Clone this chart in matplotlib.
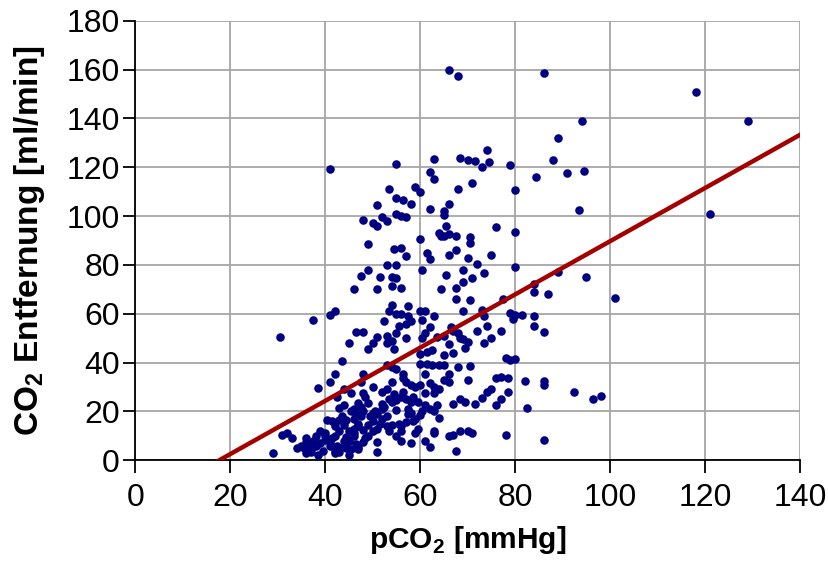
import numpy as np
import matplotlib.pyplot as plt

plt.rcParams['font.family'] = ['Liberation Sans', 'DejaVu Sans']

# pCO2 [mmHg] vs CO2 removal [ml/min]
pco2 = [
    66, 68, 86, 118, 129, 94, 89, 88, 74, 68.5, 70, 71.5, 74.5, 73, 79, 63, 55, 41, 62, 63,
    91, 94.5, 84.5, 71, 68, 80, 59, 60, 53.5, 55, 56.5, 58, 66, 51, 62, 65, 65, 55, 56, 57,
    52, 53, 48, 50, 51, 93.5, 121, 76, 65.5, 80, 64, 64.5, 65, 66, 67.5, 70.5, 70.5, 60, 49, 54.5,
    56, 61.5, 67.5, 66, 57, 62, 75, 70, 72, 80, 53, 55, 60.5, 69, 49, 47.5, 51.5, 54, 55, 65.5,
    73.5, 71, 89, 95, 69, 54, 56, 46, 51, 67.5, 64.5, 84, 84, 87, 101, 67.5, 70.5, 77.5, 54, 57.5,
    42, 41, 60, 61, 53.5, 55, 56, 57.5, 63, 69, 73, 73.5, 79, 80, 81.5, 84, 79.5, 58, 60.5, 52.5,
    57, 55.5, 74, 84, 86, 37.5, 46.5, 48, 62, 66.5, 67, 68, 65, 55, 53, 51, 50, 53, 54, 57,
    60.5, 61, 63.5, 68.5, 69, 70, 72, 73.5, 75, 77, 30.5, 45, 49, 54.5, 65, 67, 66, 69.5, 60, 61.5,
    62.5, 78, 79, 80, 43.5, 60, 61.5, 62.5, 64, 65, 68, 70.5, 53, 54, 55, 56.5, 56.5, 61, 66, 42,
    48, 47.5, 41, 38.5, 44, 45.5, 42.5, 48, 50, 52, 53, 54, 57, 58, 59, 60, 62, 63, 64, 66,
    65, 70, 76, 77, 78.5, 82, 86, 86, 75, 74, 78.5, 92.5, 98, 96.5, 73, 77, 68.5, 69.5, 71.5, 67,
    76, 82.5, 63, 61, 56, 57, 55, 54, 52, 49, 47, 44, 43, 46, 48, 50, 51, 53, 55, 57.5,
    58, 60, 61, 62, 63, 63.5, 64, 59, 58.5, 57, 56, 54, 52, 51, 49, 47, 46, 44.5, 43, 41.5,
    40.5, 42, 44, 46, 48, 50, 53.5, 56, 59, 63, 63, 66, 67, 68.5, 70, 71, 78, 86, 61, 62,
    56, 58, 51, 46.5, 47, 48, 45, 44.5, 42, 40, 39, 38, 37.5, 36, 36, 35, 34, 33, 31, 32,
    29, 36, 37, 38.5, 39.5, 41, 42, 43, 44, 44.5, 45, 45.5, 47, 51, 67.5, 40, 41, 43, 38, 37,
    42.5, 40, 39, 37, 35.5, 41.5, 43.5, 45.5, 46.5, 47.5, 48.5, 49.5, 50.5, 52.5, 54.5, 55.5, 57.5, 59.5, 60.5, 58.5,
    44, 45, 46, 47, 48.5, 50, 52, 53, 55, 56.5, 58, 59.5, 42, 43, 44.5, 46, 47.5, 49, 51.5, 53.5,
]
co2 = [
    160, 157.5, 158.5, 151, 139, 139, 132, 123, 127, 124, 123, 122.5, 122, 120, 121, 123.5, 121.5, 119.5, 118, 115,
    117.5, 118.5, 116, 113.5, 111, 110.5, 112, 110, 111, 107.5, 106.5, 105, 105, 104.5, 103, 102, 100.5, 101, 100, 99.5,
    99.5, 98, 98.5, 97, 96, 102.5, 101, 95.5, 96, 93.5, 93, 92, 92, 92.5, 92, 91.5, 89, 90.5, 88.5, 86.5,
    87, 85, 86, 84, 83.5, 82.5, 84, 83, 80.5, 79, 80, 80, 78, 78, 78, 75.5, 75, 75, 74.5, 76,
    76.5, 74.5, 77, 75, 73, 71.5, 70.5, 70, 70, 70.5, 70, 72, 69, 68, 66.5, 66, 65.5, 66, 63.5, 63,
    61, 59.5, 61, 61, 61, 60, 60, 59, 59, 61, 61.5, 59, 60.5, 59.5, 59.5, 59, 58, 57, 57.5, 57,
    56, 55, 55, 55, 52.5, 57.5, 52.5, 52.5, 54.5, 54.5, 53, 52, 51, 52, 51, 50.5, 48, 48, 49, 50,
    50, 52, 50.5, 50, 49.5, 48.5, 53, 48, 50, 53, 50.5, 48, 45.5, 45.5, 43, 44, 47.5, 46, 43.5, 44.5,
    45, 42, 41, 41.5, 40.5, 39.5, 39.5, 39, 39, 39, 38, 38.5, 39, 38, 37.5, 35.5, 33.5, 35.5, 35.5, 35.5,
    35.5, 32, 32, 29.5, 29, 27.5, 26, 27.5, 30, 28, 29, 32, 32, 31, 30, 31, 31.5, 30, 29, 32,
    33, 33, 33.5, 34, 33.5, 32.5, 32.5, 31, 29, 28, 28, 28, 26.5, 25, 25.5, 25, 25, 24, 23, 23,
    22.5, 21.5, 27.5, 27.5, 26, 25, 24.5, 24, 23, 23.5, 23.5, 22.5, 21.5, 21, 20, 19.5, 19, 18, 20.5, 21,
    19.5, 18.5, 22.5, 21, 20, 22.5, 17.5, 17, 16, 15.5, 14, 14.5, 17, 13, 14.5, 15, 17, 16.5, 16.5, 16,
    16.5, 14, 14.5, 13, 12.5, 12, 12, 12, 11, 12, 11, 10, 10.5, 12, 12, 11, 10.5, 8.5, 8, 5.5,
    8, 7, 7.5, 6.5, 5.5, 7.5, 8, 9.5, 10, 11, 12, 10, 8, 7.5, 9, 6, 5, 9, 10.5, 11,
    3, 3, 3.5, 2, 4, 6, 4, 3.5, 6, 5, 2, 4.5, 4.5, 3.5, 4, 10, 7.5, 12, 6, 6.5,
    6, 8.5, 7, 4.5, 5, 9, 18, 20, 19, 22, 26, 18, 20, 22, 27, 15, 19, 24, 20, 26,
    8, 12, 10, 14, 9, 16, 21, 14, 10, 28, 24, 13, 3, 4.5, 7, 11, 18, 10, 15, 25,
]

# regression line end points
fit_x = [17.7, 140]
fit_y = [0, 133.3]

fig = plt.figure(figsize=(8.29, 5.62), dpi=100)
ax = fig.add_axes([0.163, 0.181, 0.802, 0.782])

ax.scatter(pco2, co2, s=38, color='#000080', zorder=3, linewidths=0)
ax.plot(fit_x, fit_y, color='#A50000', lw=3.2, zorder=4)

ax.set_xlim(0, 140)
ax.set_ylim(0, 180)
ax.set_xticks(np.arange(0, 141, 20))
ax.set_yticks(np.arange(0, 181, 20))
ax.grid(True, color='#A6A6A6', lw=1.3)
ax.set_axisbelow(True)
for s in ['top', 'right']:
    ax.spines[s].set_visible(False)
for s in ['left', 'bottom']:
    ax.spines[s].set_linewidth(1.3)
ax.tick_params(labelsize=23, length=9, width=1.3, pad=2)
ax.tick_params(axis='x', pad=7)

ax.set_xlabel('pCO$_\\mathregular{2}$ [mmHg]', fontsize=21.5, fontweight='bold', labelpad=8)
ax.set_ylabel('CO$_\\mathregular{2}$ Entfernung [ml/min]', fontsize=24, fontweight='bold', labelpad=14)

fig.savefig('out.png', dpi=100)
